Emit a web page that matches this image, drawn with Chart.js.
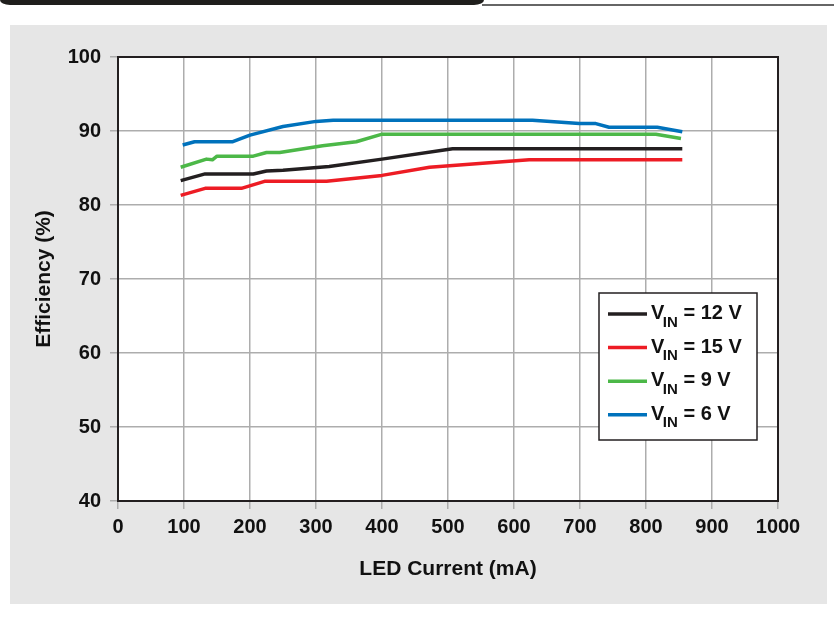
<!DOCTYPE html>
<html>
<head>
<meta charset="utf-8">
<script src="https://cdn.jsdelivr.net/npm/chart.js@4.4.1/dist/chart.umd.min.js"></script>
<style>
  body { margin: 0; background: #fff; width: 834px; height: 617px; position: relative; overflow: hidden; }
  #topBar { position: absolute; left: 0; top: 0; width: 484px; height: 5px; background: #1f1e1c; border-bottom-left-radius: 10px 5px; border-bottom-right-radius: 10px 5px; }
  #topLine { position: absolute; left: 482px; top: 4px; width: 352px; height: 1.5px; background: #666; }
  #panel { position: absolute; left: 10px; top: 25px; width: 817px; height: 579px; background: #e6e6e6; }
</style>
</head>
<body>
<div id="topBar"></div>
<div id="topLine"></div>
<div id="panel"><canvas id="effChart" width="817" height="579"></canvas></div>
<script>
// LED current (mA) and efficiency (%) for each input voltage
const vin12Current = [95, 132, 205, 225, 250, 320, 400, 507, 855];
const vin12Eff = [83.3, 84.2, 84.2, 84.6, 84.7, 85.2, 86.2, 87.6, 87.6];

const vin15Current = [95, 132, 187, 222, 316, 400, 472, 623, 855];
const vin15Eff = [81.3, 82.25, 82.25, 83.2, 83.2, 84.0, 85.1, 86.1, 86.1];

const vin9Current = [95, 134, 143, 150, 205, 225, 245, 310, 361, 399, 815, 853];
const vin9Eff = [85.1, 86.2, 86.1, 86.6, 86.6, 87.1, 87.1, 88.0, 88.55, 89.55, 89.55, 89.0];

const vin6Current = [98, 116, 174, 200, 250, 300, 326, 628, 699, 724, 744, 817, 855];
const vin6Eff = [88.1, 88.55, 88.55, 89.45, 90.6, 91.3, 91.45, 91.45, 91.0, 91.0, 90.5, 90.5, 89.9];

const vinLabels = ['12', '15', '9', '6'];
const xTicks = [0, 100, 200, 300, 400, 500, 600, 700, 800, 900, 1000];
const yTicks = [40, 50, 60, 70, 80, 90, 100];

const colors = ['#231f20', '#ed1c24', '#4cb848', '#0072bc'];
const gridColor = '#adadad';
const textColor = '#111';
const fontFamily = '"Liberation Sans", Arial, sans-serif';

function toPoints(xs, ys) {
    return xs.map((x, i) => ({ x: x, y: ys[i] }));
}

const seriesData = [
    toPoints(vin12Current, vin12Eff),
    toPoints(vin15Current, vin15Eff),
    toPoints(vin9Current, vin9Eff),
    toPoints(vin6Current, vin6Eff)
];

// white plot area and frame around it
const frame = {
    id: 'frame',
    beforeDraw(chart) {
        const { ctx, chartArea: a } = chart;
        ctx.save();
        ctx.fillStyle = '#fff';
        ctx.fillRect(a.left, a.top, a.right - a.left, a.bottom - a.top);
        ctx.restore();
    },
    afterDatasetsDraw(chart) {
        const { ctx, chartArea: a } = chart;
        ctx.save();
        ctx.strokeStyle = '#231f20';
        ctx.lineWidth = 2;
        ctx.strokeRect(a.left, a.top, a.right - a.left, a.bottom - a.top);
        ctx.restore();
    }
};

// legend box with subscripted labels
const vinLegend = {
    id: 'vinLegend',
    afterDraw(chart) {
        const { ctx, chartArea: a } = chart;
        const bx = a.right - 179, by = a.top + 236, bw = 158, bh = 147;
        ctx.save();
        ctx.fillStyle = '#fff';
        ctx.fillRect(bx, by, bw, bh);
        ctx.strokeStyle = '#231f20';
        ctx.lineWidth = 1.5;
        ctx.strokeRect(bx, by, bw, bh);
        chart.data.datasets.forEach((ds, i) => {
            const y = by + 21 + i * 33.6;
            ctx.strokeStyle = ds.borderColor;
            ctx.lineWidth = 3.5;
            ctx.beginPath();
            ctx.moveTo(bx + 9, y);
            ctx.lineTo(bx + 48, y);
            ctx.stroke();

            ctx.fillStyle = textColor;
            ctx.textBaseline = 'alphabetic';
            ctx.textAlign = 'left';
            let x = bx + 52;
            ctx.font = 'bold 20px ' + fontFamily;
            ctx.fillText('V', x, y + 5);
            x += ctx.measureText('V').width - 1.5;
            ctx.font = 'bold 15px ' + fontFamily;
            ctx.fillText('IN', x, y + 12.5);
            x += ctx.measureText('IN').width;
            ctx.font = 'bold 20px ' + fontFamily;
            ctx.fillText(' = ' + vinLabels[i] + ' V', x, y + 5);
        });
        ctx.restore();
    }
};

const ctx = document.getElementById('effChart').getContext('2d');
new Chart(ctx, {
    type: 'line',
    data: {
        datasets: seriesData.map((pts, i) => ({
            label: 'VIN = ' + vinLabels[i] + ' V',
            data: pts,
            borderColor: colors[i],
            backgroundColor: colors[i],
            borderWidth: 3.5,
            pointRadius: 0,
            tension: 0,
            fill: false,
            borderJoinStyle: 'round'
        }))
    },
    options: {
        responsive: false,
        animation: false,
        layout: { padding: { left: 0, top: 32, right: 49, bottom: 0 } },
        plugins: {
            legend: { display: false },
            tooltip: { enabled: false }
        },
        scales: {
            x: {
                type: 'linear',
                min: 0,
                max: 1000,
                afterBuildTicks: (scale) => { scale.ticks = xTicks.map(v => ({ value: v })); },
                afterFit: (scale) => { scale.height = 103; },
                grid: { color: gridColor, lineWidth: 1.5, tickLength: 8, tickColor: gridColor },
                border: { display: false },
                ticks: {
                    padding: 6,
                    color: textColor,
                    font: { family: fontFamily, size: 20, weight: 'bold' },
                    maxRotation: 0,
                    callback: (v) => String(v)
                },
                title: {
                    display: true,
                    text: 'LED Current (mA)',
                    color: textColor,
                    font: { family: fontFamily, size: 21, weight: 'bold' },
                    padding: { top: 0, bottom: 22 }
                }
            },
            y: {
                min: 40,
                max: 100,
                afterBuildTicks: (scale) => { scale.ticks = yTicks.map(v => ({ value: v })); },
                afterFit: (scale) => { scale.width = 108; },
                grid: { color: gridColor, lineWidth: 1.5, tickLength: 8, tickColor: gridColor },
                border: { display: false },
                ticks: {
                    padding: 9,
                    color: textColor,
                    font: { family: fontFamily, size: 20, weight: 'bold' },
                    callback: (v) => String(v)
                },
                title: {
                    display: true,
                    text: 'Efficiency (%)',
                    color: textColor,
                    font: { family: fontFamily, size: 21, weight: 'bold' },
                    padding: { top: 22, bottom: 0 }
                }
            }
        }
    },
    plugins: [frame, vinLegend]
});
</script>
</body>
</html>
